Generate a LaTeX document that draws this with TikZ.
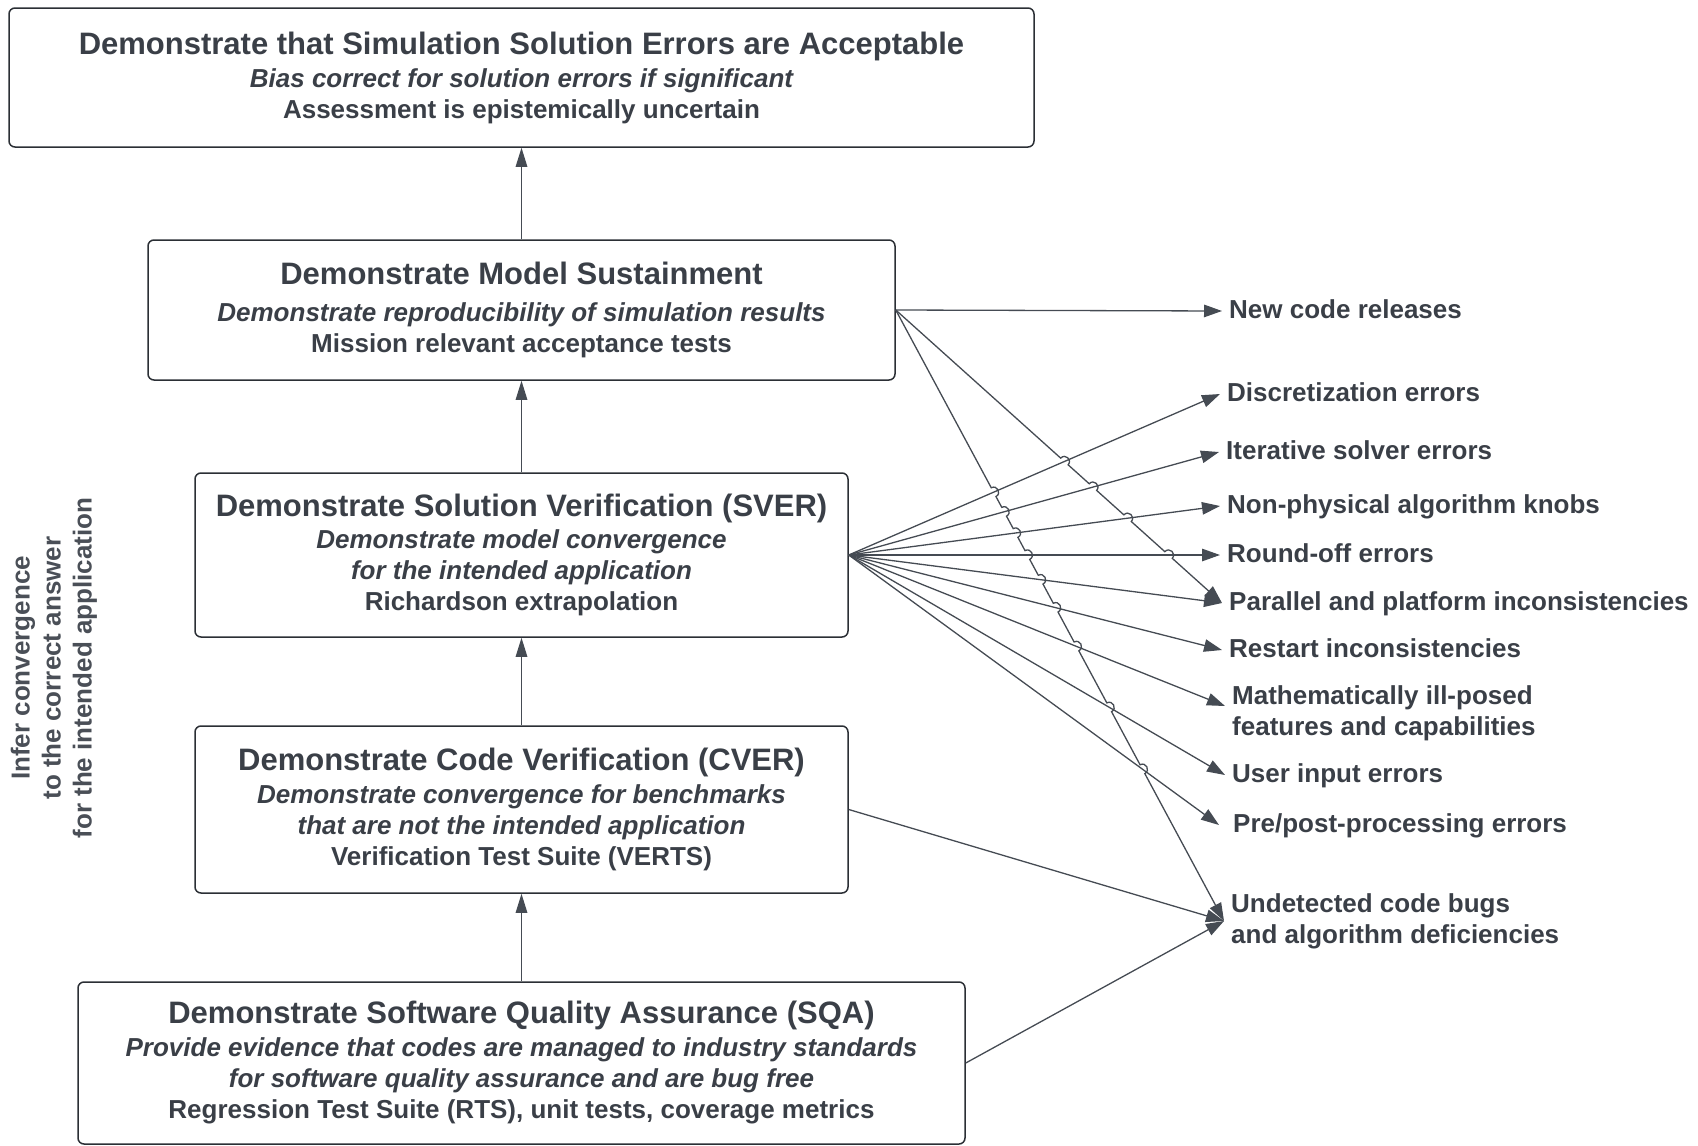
\documentclass[tikz,border=0pt]{standalone}
\usepackage{fontspec}
\setmainfont{Liberation Sans}
\usetikzlibrary{arrows.meta,calc,intersections}

\definecolor{ink}{HTML}{3A3F47}
\definecolor{softink}{HTML}{4A4F57}
\definecolor{edge}{HTML}{2B2F35}
\definecolor{wire}{HTML}{454B53}

\newcommand\bodyfont{\fontsize{26}{31}\selectfont\bfseries}
\newcommand\headfont{\fontsize{31}{31}\selectfont\bfseries}

% radius of a line hop and distance of its Bezier controls
\newcommand\hr{5pt}
\newcommand\hc{8.333pt}

\tikzset{
  box/.style={draw=edge, line width=1.5pt, rounded corners=6pt, align=center,
    text=ink, font=\bodyfont, inner sep=0pt},
  lbl/.style={anchor=west, text=ink, font=\bodyfont, inner ysep=0pt, inner xsep=7pt,
    text height=19pt, text depth=5pt},
  lbltwo/.style={anchor=west, text=ink, font=\bodyfont, inner ysep=0pt, inner xsep=7pt,
    align=left},
  wire/.style={draw=wire, line width=1.3pt, -{Triangle[length=18pt,width=12.5pt]}},
  up/.style={draw=wire, line width=1.3pt, -{Triangle[length=19pt,width=11.5pt]}},
}

\begin{document}
\begin{tikzpicture}[x=1pt, y=-1pt]
\useasboundingbox (0,0) rectangle (1698,1146);

% stacked evidence boxes
\node[box, minimum width=1025pt, minimum height=139pt] (goal) at (521.5,77.5)
  {{\headfont Demonstrate that Simulation Solution Errors are Acceptable}\\[2pt]
   {\itshape Bias correct for solution errors if significant}\\
   Assessment is epistemically uncertain};
\node[box, minimum width=747pt, minimum height=140pt] (ms) at (521.5,310)
  {{\headfont Demonstrate Model Sustainment}\\[6pt]
   {\itshape Demonstrate reproducibility of simulation results}\\
   Mission relevant acceptance tests};
\node[box, minimum width=653pt, minimum height=164pt] (sv) at (521.5,555)
  {{\headfont Demonstrate Solution Verification (SVER)}\\[1pt]
   {\itshape Demonstrate model convergence}\\
   {\itshape for the intended application}\\
   Richardson extrapolation};
\node[box, minimum width=653pt, minimum height=167pt] (cv) at (521.5,809.5)
  {{\headfont Demonstrate Code Verification (CVER)}\\[2pt]
   {\itshape Demonstrate convergence for benchmarks}\\
   {\itshape that are not the intended application}\\
   Verification Test Suite (VERTS)};
\node[box, minimum width=887pt, minimum height=162pt] (sqa) at (521.5,1063)
  {{\headfont Demonstrate Software Quality Assurance (SQA)}\\[2pt]
   {\itshape Provide evidence that codes are managed to industry standards}\\
   {\itshape for software quality assurance and are bug free}\\
   Regression Test Suite (RTS), unit tests, coverage metrics};

% side caption
\node[rotate=90, align=center, text=softink, font=\bodyfont] (infer)
  at (54,668) {Infer convergence\\to the correct answer\\for the intended application};

% error sources
\node[lbl] (ncr) at (1222,311) {New code releases};
\node[lbl] (dis) at (1220,394) {Discretization errors};
\node[lbl] (its) at (1219,452) {Iterative solver errors};
\node[lbl] (npk) at (1220,506) {Non-physical algorithm knobs};
\node[lbl] (rnd) at (1220,555) {Round-off errors};
\node[lbl] (par) at (1222,603) {Parallel and platform inconsistencies};
\node[lbl] (rst) at (1222,650) {Restart inconsistencies};
\node[lbltwo] (mat) at (1225,713) {Mathematically ill-posed\\features and capabilities};
\node[lbl] (usr) at (1225,775) {User input errors};
\node[lbl, inner xsep=14pt] (pre) at (1219,825) {Pre/post-processing errors};
\node[lbltwo] (und) at (1224,921) {Undetected code bugs\\and algorithm deficiencies};
\coordinate (matin) at ([yshift=7pt]mat.west);

% upward chain
\draw[up] (ms.north) -- (goal.south);
\draw[up] (sv.north) -- (ms.south);
\draw[up] (cv.north) -- (sv.south);
\draw[up] (sqa.north) -- (cv.south);

% solution verification fan
\foreach \t in {dis.west, its.west, npk.west, rnd.west, par.west, rst.west, matin, usr.west, pre.west}
  \draw[wire] (sv.east) -- (\t);

\draw[wire] (ms.east) -- (ncr.west);
\draw[wire] (cv.east) -- (und.west);
\draw[wire] (sqa.east) -- (und.west);

% crossings for the line hops
\path[name path=lineA] (ms.east) -- (par.west);
\path[name path=lineB] (ms.east) -- (und.west);
\path[name path=svA] (sv.east) -- (dis.west) (sv.east) -- (its.west)
  (sv.east) -- (npk.west) (sv.east) -- (rnd.west);
\path[name path=svB] (sv.east) -- (dis.west) (sv.east) -- (its.west)
  (sv.east) -- (npk.west) (sv.east) -- (rnd.west) (sv.east) -- (par.west)
  (sv.east) -- (rst.west) (sv.east) -- (matin) (sv.east) -- (usr.west)
  (sv.east) -- (pre.west);
\path[name intersections={of=lineA and svA, name=ha, sort by=lineA}];
\path[name intersections={of=lineB and svB, name=hb, sort by=lineB}];

\draw[wire] (ms.east)
  foreach \i in {1,...,4} {
    -- ($(ha-\i)!\hr!(ms.east)$)
    .. controls ($(ha-\i)!\hc!-53.13:(ms.east)$) and ($(ha-\i)!\hc!-126.87:(ms.east)$)
    .. ($(ha-\i)!-\hr!(ms.east)$) }
  -- (par.west);
\draw[wire] (ms.east)
  foreach \i in {1,...,9} {
    -- ($(hb-\i)!\hr!(ms.east)$)
    .. controls ($(hb-\i)!\hc!-53.13:(ms.east)$) and ($(hb-\i)!\hc!-126.87:(ms.east)$)
    .. ($(hb-\i)!-\hr!(ms.east)$) }
  -- (und.west);
\end{tikzpicture}
\end{document}
